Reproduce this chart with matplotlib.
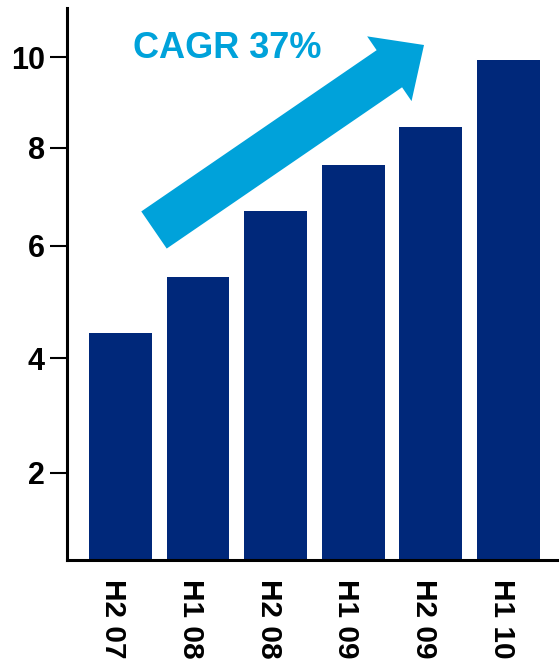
import numpy as np
import matplotlib
matplotlib.use('Agg')
import matplotlib.pyplot as plt
import matplotlib.transforms as mtransforms
from matplotlib.patches import FancyArrow

periods = ['H2 07', 'H1 08', 'H2 08', 'H1 09', 'H2 09', 'H1 10']
values = [4.45, 5.44, 6.71, 7.65, 8.46, 9.94]
yticks = [2, 4, 6, 8, 10]
cagr_label = 'CAGR 37%'

navy = '#00287a'
lightblue = '#00a2da'

plt.rcParams['font.family'] = ['Liberation Sans', 'DejaVu Sans']
plt.rcParams['font.weight'] = 'bold'

# the source axis is not evenly spaced, so map values through its tick spacing
knot_v = np.array([-2.0, 0, 2, 4, 6, 8, 10, 12, 14])
knot_p = np.array([-87.3, 0, 87.3, 201.7, 314.3, 412.3, 502.7, 593.1, 683.5])

def fwd(v):
	return np.interp(v, knot_v, knot_p)

def inv(p):
	return np.interp(p, knot_p, knot_v)

fig = plt.figure(figsize=(5.59, 6.69), dpi=100)
ax = fig.add_axes([67/559, 109/669, 1 - 67/559, 552/669])

x = np.arange(len(periods))
ax.bar(x, values, width=0.81, color=navy, zorder=2)

ax.set_yscale('function', functions=(fwd, inv))
ax.set_ylim(0, 11.09)
ax.set_xlim(-0.688, 5.65)
ax.set_yticks(yticks)
ax.set_yticklabels([str(t) for t in yticks], fontsize=22, fontweight='bold')
ax.set_xticks(x)
ax.set_xticklabels(periods, rotation=-90, fontsize=21.5, fontweight='bold', va='top', ha='center')
ax.tick_params(axis='y', length=12, width=1.5, pad=4, direction='out')
ax.tick_params(axis='x', length=0, pad=14)
ax.minorticks_off()

# labels sit a little left of the bar centres in the source
shift = mtransforms.ScaledTranslation(-0.07, 0, fig.dpi_scale_trans)
for lbl in ax.get_xticklabels():
	lbl.set_transform(lbl.get_transform() + shift)

for s in ['top', 'right']:
	ax.spines[s].set_visible(False)
for s in ['left', 'bottom']:
	ax.spines[s].set_linewidth(2.2)

# growth arrow, in inches on the figure
arrow = FancyArrow(1.54, 4.39, 2.70, 1.85, width=0.45, head_width=0.785,
				   head_length=0.42, length_includes_head=True,
				   color=lightblue, lw=0, transform=fig.dpi_scale_trans)
fig.add_artist(arrow)
fig.text(133/559, 1 - 58/669, cagr_label, color=lightblue, fontsize=26,
		 fontweight='bold', ha='left', va='baseline')

fig.savefig('out.png', dpi=100)
